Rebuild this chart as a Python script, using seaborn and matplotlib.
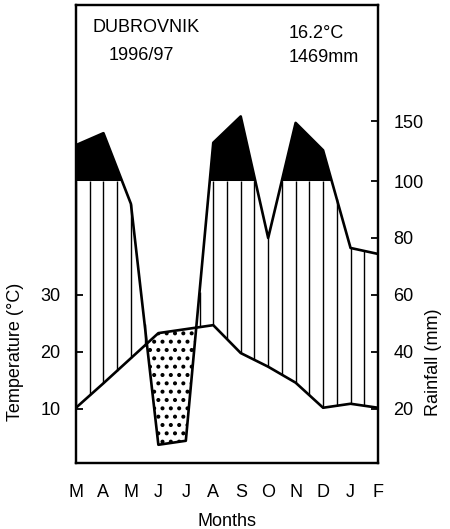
import numpy as np
import pandas as pd
import matplotlib
matplotlib.use("Agg")
import matplotlib.pyplot as plt
import seaborn as sns

# ---- data ----
months = ["M", "A", "M", "J", "J", "A", "S", "O", "N", "D", "J", "F"]
temperature_c = [10.2, 14.5, 18.9, 23.3, 24.0, 24.7, 19.8, 17.4, 14.6, 10.2, 10.9, 10.2]
rainfall_mm = [130, 140, 92, 7.4, 8.8, 132, 154, 80, 148.6, 125.7, 76.5, 74.4]
temp_ticks = [10, 20, 30]
rain_ticks = [20, 40, 60, 80, 100, 150]
station = "DUBROVNIK"
period = "1996/97"
mean_temp = "16.2°C"
annual_rain = "1469mm"


def rain_to_scale(p):
    """Walter-Lieth scale: 20 mm = 10 °C up to 100 mm, compressed above."""
    p = np.asarray(p, float)
    return np.where(p <= 100, p / 2.0, 50 + (p - 100) * 0.21)


sns.set_style("white")
plt.rcParams["font.family"] = ["Liberation Sans", "DejaVu Sans"]
plt.rcParams["hatch.linewidth"] = 1.7
plt.rcParams["text.color"] = "black"
plt.rcParams["axes.labelcolor"] = "black"
plt.rcParams["xtick.color"] = "black"
plt.rcParams["ytick.color"] = "black"
FS = 13

fig = plt.figure(figsize=(4.5, 5.29), dpi=100)
W, H = 450, 529
ax = fig.add_axes([76 / W, 1 - 463 / H, (378 - 76) / W, (463 - 5) / H])

x = np.arange(len(months))
t = np.array(temperature_c, float)
r = rain_to_scale(rainfall_mm)
df = pd.DataFrame({"month": x, "temp": t, "rain": r})

xf = np.linspace(0, len(months) - 1, 2201)
tf = np.interp(xf, x, t)
rf = np.interp(xf, x, r)

# perhumid part (>100 mm) in black
ax.fill_between(xf, 50, rf, where=rf > 50, interpolate=True, color="black", lw=0, zorder=2)

# humid part: vertical hatching every half month
xs = np.arange(0, len(months) - 1 + 0.001, 0.5)
top = np.minimum(np.interp(xs, x, r), 50)
bot = np.interp(xs, x, t)
m = top > bot
ax.vlines(xs[m], bot[m], top[m], color="black", lw=1.0, zorder=2)

# arid part: dotted
ax.fill_between(xf, rf, tf, where=rf < tf, interpolate=True, facecolor="white",
                edgecolor="black", hatch="..", lw=0, zorder=2)

sns.lineplot(data=df, x="month", y="temp", color="black", lw=1.9, ax=ax, zorder=3)
sns.lineplot(data=df, x="month", y="rain", color="black", lw=1.9, ax=ax, zorder=3)

ax.set_xlim(0, len(months) - 1)
ax.set_ylim(0.5, 80.9)
ax.set_xticks(x)
ax.set_xticklabels(months, fontsize=FS)
ax.set_yticks(temp_ticks)
ax.set_yticklabels([str(v) for v in temp_ticks], fontsize=FS)
ax.tick_params(axis="x", direction="in", length=3, width=1.2, color="#777777",
               labelcolor="black", pad=15)
ax.tick_params(axis="y", direction="in", length=5, width=1.3, pad=11)
for s in ax.spines.values():
    s.set_linewidth(1.6)
    s.set_color("black")
ax.set_xlabel("Months", fontsize=FS, labelpad=9)
ax.set_ylabel("")

ax2 = ax.twinx()
ax2.set_ylim(ax.get_ylim())
ax2.set_yticks(rain_to_scale(rain_ticks))
ax2.set_yticklabels([str(v) for v in rain_ticks], fontsize=FS)
ax2.tick_params(axis="y", direction="in", length=5, width=1.3, pad=11)
for s in ax2.spines.values():
    s.set_linewidth(1.6)
    s.set_color("black")

fig.text(16 / W, 1 - 352 / H, "Temperature (°C)", fontsize=FS, rotation=90,
         ha="center", va="center")
fig.text(434 / W, 1 - 362 / H, "Rainfall (mm)", fontsize=FS, rotation=90,
         ha="center", va="center")

fig.text(93 / W, 1 - 28 / H, station, fontsize=FS, ha="left", va="center")
fig.text(109 / W, 1 - 55 / H, period, fontsize=FS, ha="left", va="center")
fig.text(289 / W, 1 - 34 / H, mean_temp, fontsize=FS, ha="left", va="center")
fig.text(289 / W, 1 - 57 / H, annual_rain, fontsize=FS, ha="left", va="center")

fig.savefig("out.png", dpi=100, facecolor="white")
